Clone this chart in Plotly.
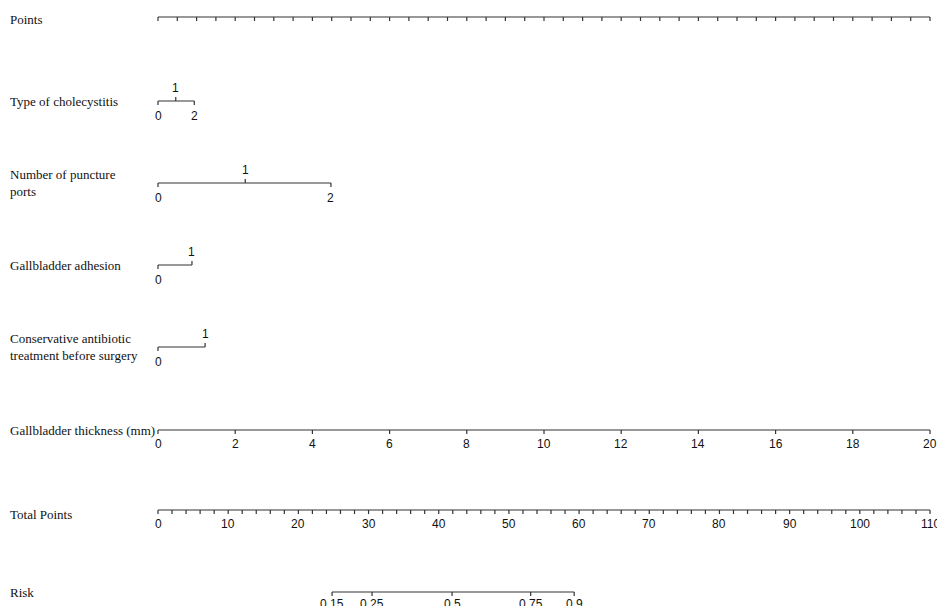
import plotly.graph_objects as go
import numpy as np

# ---- data ----
points_ticks = list(range(0, 101, 10))
type_levels = ["0", "1", "2"]; type_pts = [0, 2.3, 4.7]
ports_levels = ["0", "1", "2"]; ports_pts = [0, 11.3, 22.4]
adh_levels = ["0", "1"]; adh_pts = [0, 4.4]
anti_levels = ["0", "1"]; anti_pts = [0, 6.1]
thick_vals = list(range(0, 21, 2)); thick_max = 20
total_ticks = list(range(0, 111, 10)); total_max = 110
risk_labels = ["0.15", "0.25", "0.5", "0.75", "0.9"]
risk_total = [24.8, 30.5, 41.9, 53.1, 59.3]

# ---- layout geometry (page pixels; body margin of 8px compensated) ----
OFF = 8
W, H = 945 - 2 * OFF, 614 - 2 * OFF
x0px, x100px = 158 - OFF, 930 - OFF
ppu = (x100px - x0px) / 100.0
xr = [-x0px / ppu, 100 + (W - x100px) / ppu]

fig = go.Figure()
LC = "#333333"
TK = 4
lx, ly = [], []
def Y(py):
    return py - OFF
def seg(xa, ya, xb, yb):
    lx.extend([xa, Y(ya), None][:1] + [xb, None]) if False else None
    lx.extend([xa, xb, None]); ly.extend([Y(ya), Y(yb), None])
anns = []
def lab(x, y, t, size=12, font="Liberation Sans, Arial"):
    anns.append(dict(x=x, y=Y(y), text=t, showarrow=False, xanchor="center", yanchor="middle",
                     font=dict(family=font, size=size, color="#111")))
def name(y, t):
    anns.append(dict(x=xr[0] + (3 - OFF) / ppu if OFF < 3 else xr[0], y=Y(y), text=t, showarrow=False,
                     xanchor="left", yanchor="middle", align="left",
                     font=dict(family="Liberation Serif, Times New Roman", size=13, color="#111")))

# Points
y = 17
seg(0, y, 100, y)
for v in np.arange(0, 100.01, 2.5):
    seg(v, y, v, y + TK)
for v in points_ticks:
    lab(v, 6, str(v))
name(19, "Points")

def cat_row(y, levels, pts, title, up):
    seg(min(pts), y, max(pts), y)
    for l, p, u in zip(levels, pts, up):
        if u:
            seg(p, y, p, y - TK); lab(p, y - 13, l)
        else:
            seg(p, y, p, y + TK); lab(p, y + 15, l)
    name(y, title)

cat_row(101, type_levels, type_pts, "Type of cholecystitis", [False, True, False])
cat_row(183, ports_levels, ports_pts, "Number of puncture<br>ports", [False, True, False])
cat_row(265, adh_levels, adh_pts, "Gallbladder adhesion", [False, True])
cat_row(347, anti_levels, anti_pts, "Conservative antibiotic<br>treatment before surgery", [False, True])

# Thickness
y = 430
seg(0, y, 100, y)
for v in thick_vals:
    p = v / thick_max * 100
    seg(p, y, p, y + TK); lab(p, y + 14, str(v))
name(y, "Gallbladder thickness (mm)")

# Total points
y = 510
seg(0, y, 100, y)
for v in np.arange(0, total_max + 0.01, 2):
    p = v / total_max * 100
    seg(p, y, p, y + TK)
for v in total_ticks:
    lab(v / total_max * 100, y + 14, str(v))
name(y + 4, "Total Points")

# Risk
y = 592
rp = [t / total_max * 100 for t in risk_total]
seg(rp[0], y, rp[-1], y)
for l, p in zip(risk_labels, rp):
    seg(p, y, p, y + TK); lab(p, y + 12, l)
name(y, "Risk")

fig.add_trace(go.Scatter(x=lx, y=ly, mode="lines", line=dict(color=LC, width=1.2),
                         hoverinfo="skip", showlegend=False))
fig.update_layout(width=W, height=H, margin=dict(l=0, r=0, t=0, b=0),
                  plot_bgcolor="white", paper_bgcolor="white", annotations=anns,
                  xaxis=dict(range=xr, visible=False, fixedrange=True),
                  yaxis=dict(range=[H, 0], visible=False, fixedrange=True))
fig.write_html("out.html")
